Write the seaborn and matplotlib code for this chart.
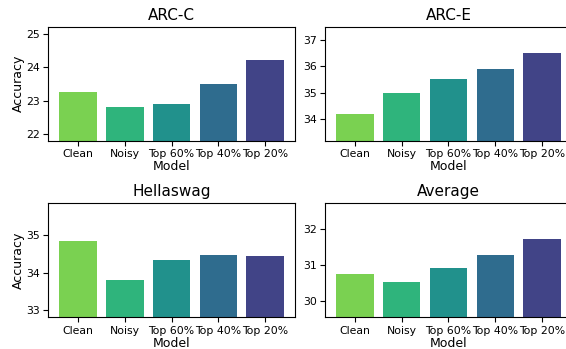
import pandas as pd
import numpy as np
import matplotlib.pyplot as plt
import seaborn as sns

models = ['Clean', 'Noisy', 'Top 60%', 'Top 40%', 'Top 20%']
titles = ['ARC-C', 'ARC-E', 'Hellaswag', 'Average']

arc_c = [23.27, 22.82, 22.91, 23.50, 24.21]
arc_e = [34.17, 35.00, 35.53, 35.91, 36.51]
hellaswag = [34.85, 33.82, 34.35, 34.48, 34.45]
average = [30.76, 30.54, 30.93, 31.29, 31.73]

all_scores = [arc_c, arc_e, hellaswag, average]

# viridis, light green for Clean down to dark purple for Top 20%
cmap = plt.get_cmap('viridis')
palette = [cmap(v) for v in np.linspace(0.8, 0.2, len(models))]

fig, axes = plt.subplots(2, 2, figsize=(5.66, 3.49), dpi=100)
fig.subplots_adjust(left=0.085, right=1.0106, top=0.9235, bottom=0.091,
                    wspace=0.121, hspace=0.553)

for i, (ax, title, scores) in enumerate(zip(axes.flat, titles, all_scores)):
    df = pd.DataFrame({'Model': models, 'Accuracy': scores})
    sns.barplot(x='Model', y='Accuracy', hue='Model', data=df, palette=palette,
                legend=False, ax=ax, width=0.8, saturation=1)
    # y range: one point below the min and above the max
    ax.set_ylim(min(scores) - 1, max(scores) + 1)
    ax.set_xlim(-0.64, 4.64)
    ax.set_title(title, fontsize=11, pad=5)
    ax.set_xlabel('Model', fontsize=9, labelpad=1)
    if i % 2 == 0:
        ax.set_ylabel('Accuracy', fontsize=9, labelpad=1)
    else:
        ax.set_ylabel('')
    ax.tick_params(axis='both', labelsize=7.8, pad=2.5)

plt.savefig('out.png', dpi=100)
